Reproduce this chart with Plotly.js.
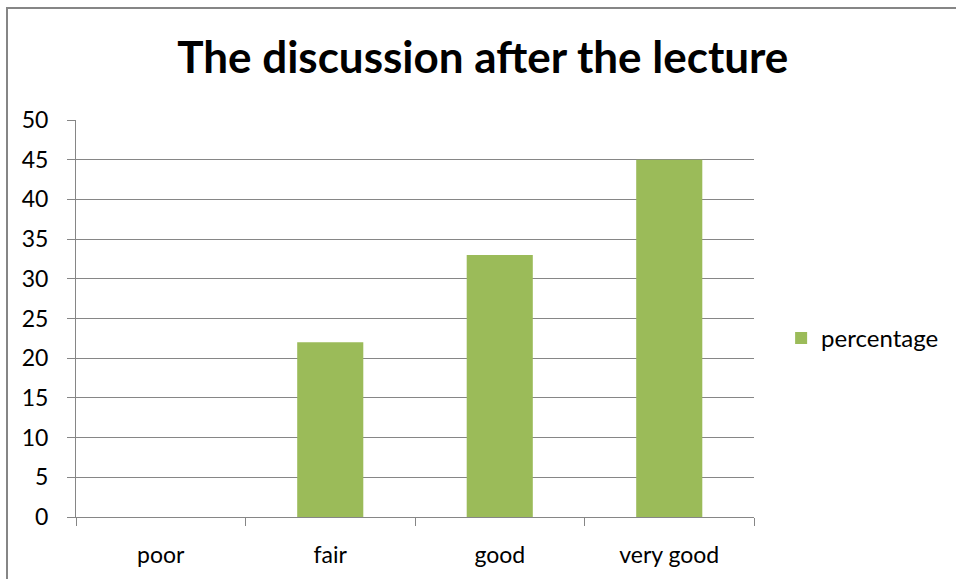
<!DOCTYPE html>
<html>
<head>
<meta charset="utf-8">
<script src="https://cdn.plot.ly/plotly-3.0.1.min.js"></script>
<style>
  html, body { margin: 0; padding: 0; background: #fff; overflow: hidden; }
  #frame { position: absolute; left: 6px; top: 7px; width: 960px; height: 590px; border-left: 2px solid #868686; border-top: 2px solid #868686; box-sizing: border-box; pointer-events: none; z-index: 10; }
  #chart { position: absolute; left: 0; top: 0; width: 956px; height: 579px; }
</style>
</head>
<body>
<div id="chart"></div>
<div id="frame"></div>
<script>
const categories = ["poor", "fair", "good", "very good"];
const percentage = [0, 22, 33, 45];
const yTicks = [0, 5, 10, 15, 20, 25, 30, 35, 40, 45, 50];
const seriesName = "percentage";
const titleText = "The discussion after the lecture";

const font = "Lato, 'Open Sans', sans-serif";

Plotly.newPlot("chart", [{
  type: "bar",
  x: categories,
  y: percentage,
  name: seriesName,
  showlegend: true,
  marker: { color: "#9BBB59", line: { width: 0 } },
  width: 0.39,
  hoverinfo: "x+y"
}], {
  width: 956,
  height: 579,
  paper_bgcolor: "#ffffff",
  plot_bgcolor: "#ffffff",
  margin: { l: 76, r: 202, t: 120, b: 62 },
  font: { family: font, color: "#000000", size: 23 },
  title: {
    text: "<b>" + titleText + "</b>",
    font: { family: font, size: 44, color: "#000000" },
    x: 0.505, xanchor: "center",
    y: 0.90, yanchor: "middle"
  },
  xaxis: {
    type: "category",
    showgrid: false,
    showline: true,
    linecolor: "#868686",
    linewidth: 1,
    ticks: "outside",
    tickson: "boundaries",
    ticklen: 8,
    tickcolor: "#868686",
    tickfont: { family: font, size: 23, color: "#000000" },
    ticklabelstandoff: 17,
    zeroline: false
  },
  yaxis: {
    range: [0, 50],
    tickvals: yTicks,
    showgrid: true,
    gridcolor: "#868686",
    gridwidth: 1,
    showline: true,
    linecolor: "#868686",
    ticks: "outside",
    ticklen: 8,
    tickcolor: "#868686",
    tickfont: { family: font, size: 23, color: "#000000" },
    ticklabelstandoff: 14,
    zeroline: false
  },
  legend: {
    x: 1.04, xanchor: "left",
    y: 0.45, yanchor: "middle",
    font: { family: font, size: 24, color: "#000000" },
    itemwidth: 30,
    bgcolor: "rgba(0,0,0,0)"
  },
  bargap: 0.61
}, { displayModeBar: false, staticPlot: true });
</script>
</body>
</html>
